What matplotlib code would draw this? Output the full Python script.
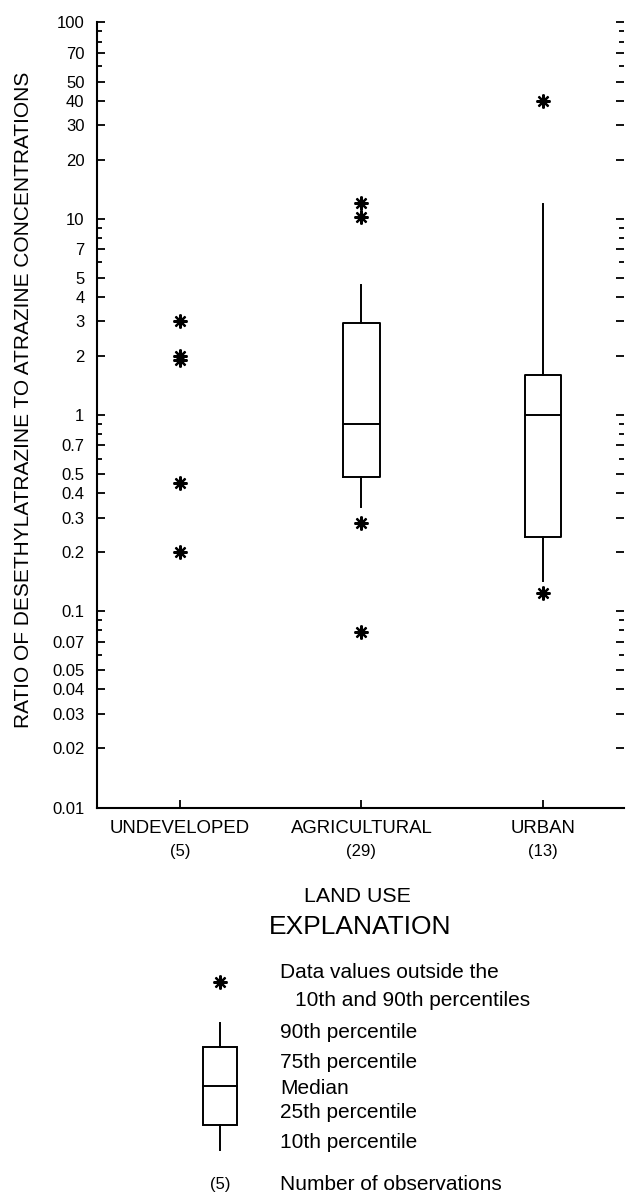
import matplotlib.pyplot as plt
from matplotlib.patches import Rectangle
from matplotlib.ticker import FixedLocator, FuncFormatter, LogLocator, NullFormatter

plt.rcParams['font.family'] = ['Liberation Sans', 'DejaVu Sans']

# land-use groups and number of samples in each
land_use = ['UNDEVELOPED', 'AGRICULTURAL', 'URBAN']
n_obs = [5, 29, 13]

# undeveloped sites: too few samples for a box, every value plotted
undeveloped_values = [3.0, 2.0, 1.9, 0.45, 0.2]

# box statistics (10th, 25th, 50th, 75th, 90th percentiles) and outside values
agri_p10, agri_q1, agri_med, agri_q3, agri_p90 = 0.34, 0.485, 0.90, 2.95, 4.6
agri_outside = [12.1, 10.2, 0.283, 0.078]
urban_p10, urban_q1, urban_med, urban_q3, urban_p90 = 0.142, 0.24, 1.0, 1.6, 11.9
urban_outside = [40.0, 0.124]

ytick_values = [0.01, 0.02, 0.03, 0.04, 0.05, 0.07, 0.1, 0.2, 0.3, 0.4, 0.5, 0.7,
                1, 2, 3, 4, 5, 7, 10, 20, 30, 40, 50, 70, 100]

W, H = 626, 1194
fig = plt.figure(figsize=(W / 100, H / 100), dpi=100)
ax = fig.add_axes([97 / W, (H - 807.5) / H, (624 - 97) / W, (807.5 - 22.5) / H])

asterisk = dict(marker=(8, 2, 0), markersize=10, markeredgewidth=1.6,
                markeredgecolor='black', color='black', linestyle='none')
line = dict(color='black', linewidth=1.4)

stats = [
    dict(whislo=agri_p10, q1=agri_q1, med=agri_med, q3=agri_q3, whishi=agri_p90,
         fliers=agri_outside),
    dict(whislo=urban_p10, q1=urban_q1, med=urban_med, q3=urban_q3, whishi=urban_p90,
         fliers=urban_outside),
]
ax.bxp(stats, positions=[2, 3], widths=0.2, showcaps=False,
       boxprops=line, whiskerprops=line, medianprops=line, flierprops=asterisk)
ax.plot([1] * len(undeveloped_values), undeveloped_values, **asterisk)

ax.set_yscale('log')
ax.set_ylim(0.01, 100)
ax.set_xlim(0.543, 3.446)
ax.yaxis.set_major_locator(FixedLocator(ytick_values))
ax.yaxis.set_major_formatter(FuncFormatter(lambda v, _: f'{v:g}'))
ax.yaxis.set_minor_locator(LogLocator(base=10, subs=range(1, 10), numticks=20))
ax.yaxis.set_minor_formatter(NullFormatter())

ax.set_xticks([1, 2, 3])
ax.set_xticklabels(land_use, fontsize=13.4)
for pos, n in zip([1, 2, 3], n_obs):
    ax.annotate(f'({n})', xy=(pos, 0), xycoords=ax.get_xaxis_transform(),
                xytext=(0, -32), textcoords='offset points',
                ha='center', va='center', fontsize=12)

ax.tick_params(axis='y', which='both', direction='in', left=True, right=True,
               width=1.3, labelsize=12, pad=9)
ax.tick_params(axis='y', which='major', length=6)
ax.tick_params(axis='y', which='minor', length=3.5)
ax.tick_params(axis='x', direction='in', length=5.5, width=1.3, pad=9)

for side in ['top', 'right']:
    ax.spines[side].set_visible(False)
for side in ['left', 'bottom']:
    ax.spines[side].set_linewidth(1.5)

ax.set_ylabel('RATIO OF DESETHYLATRAZINE TO ATRAZINE CONCENTRATIONS', fontsize=15)
ax.yaxis.set_label_coords(-0.14, 0.519)
ax.yaxis.label.set_va('center')
ax.set_xlabel('LAND USE', fontsize=15.4)
ax.xaxis.set_label_coords(0.495, -0.114)
ax.xaxis.label.set_va('center')

# explanation block, laid out in pixel coordinates
leg = fig.add_axes([0, 0, 1, 1], facecolor='none')
leg.set_xlim(0, W)
leg.set_ylim(H, 0)
leg.axis('off')

leg.text(360, 927, 'EXPLANATION', fontsize=19, ha='center', va='center')
leg.plot([220], [982], **asterisk)
leg.text(280, 973, 'Data values outside the', fontsize=15, va='center')
leg.text(295, 1000, '10th and 90th percentiles', fontsize=15, va='center')

leg.plot([220, 220], [1023, 1047], **line)
leg.plot([220, 220], [1125, 1150], **line)
leg.add_patch(Rectangle((203, 1047), 34, 78, fill=False, edgecolor='black',
                        linewidth=1.4))
leg.plot([203, 237], [1086, 1086], **line)

for label, y in [('90th percentile', 1032), ('75th percentile', 1063),
                 ('Median', 1088), ('25th percentile', 1113),
                 ('10th percentile', 1143)]:
    leg.text(280, y, label, fontsize=15, va='center')

leg.text(220, 1185, '(5)', fontsize=12, ha='center', va='center')
leg.text(280, 1185, 'Number of observations', fontsize=15, va='center')

fig.savefig('out.png', dpi=100)
